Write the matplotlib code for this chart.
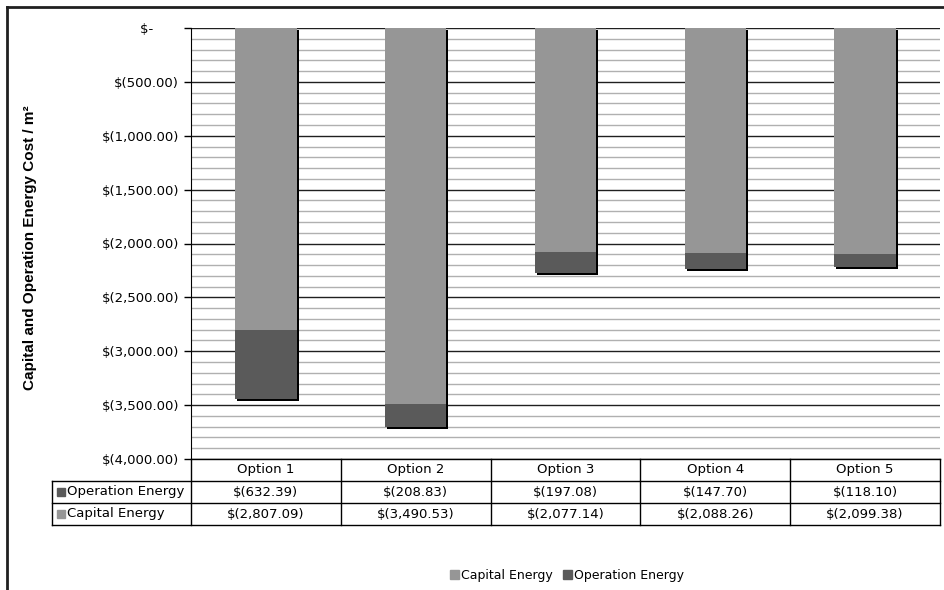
import matplotlib.pyplot as plt
import matplotlib.patheffects as pe
from matplotlib.lines import Line2D
from matplotlib.patches import Rectangle

options = ["Option 1", "Option 2", "Option 3", "Option 4", "Option 5"]
capital = [-2807.09, -3490.53, -2077.14, -2088.26, -2099.38]
operation = [-632.39, -208.83, -197.08, -147.70, -118.10]
y_ticks = [0, -500, -1000, -1500, -2000, -2500, -3000, -3500, -4000]

cap_color = "#969696"
op_color = "#5a5a5a"
W, H = 944, 590
fs = 9.5


def money(v):
    if v == 0:
        return "$-      "
    return "$({:,.2f})".format(abs(v))


fig = plt.figure(figsize=(W / 100, H / 100), dpi=100)
plt.rcParams['font.family'] = ['DejaVu Sans']

# plot area in pixel coords
x0, x1, ytop, ybot = 191, 940, 28, 459
ax = fig.add_axes([x0 / W, 1 - ybot / H, (x1 - x0) / W, (ybot - ytop) / H])

shadow = [pe.SimplePatchShadow(offset=(1.5, -1.5), shadow_rgbFace="black", alpha=1.0), pe.Normal()]
xs = range(len(options))
ax.bar(xs, capital, width=0.41, color=cap_color, zorder=3, path_effects=shadow)
ax.bar(xs, operation, width=0.41, bottom=capital, color=op_color, zorder=3, path_effects=shadow)

ax.set_xlim(-0.5, len(options) - 0.5)
ax.set_ylim(-4000, 0)
ax.set_yticks(y_ticks)
ax.set_yticklabels([money(v) for v in y_ticks], fontsize=fs)
ax.set_yticks(range(-4000, 1, 100), minor=True)
ax.set_xticks([])
ax.tick_params(axis="y", which="major", length=5, width=1, color="black", pad=3.5)
ax.tick_params(axis="y", which="minor", length=0)
ax.grid(axis="y", which="minor", color="#b0b0b0", linewidth=1, zorder=0)
ax.grid(axis="y", which="major", color="#202020", linewidth=1, zorder=1)
for s in ["top", "right", "bottom"]:
    ax.spines[s].set_visible(False)
ax.spines["left"].set_color("black")
ax.set_ylabel("Capital and Operation Energy Cost / m²", fontsize=11, fontweight="bold",
              family=["Liberation Sans", "DejaVu Sans"])
ax.yaxis.set_label_coords(-(x0 - 37) / (x1 - x0), 0.49)

# data table under the axes
col_w = (x1 - x0) / len(options)
row_h = 22
label_x = 52
rows = [("Operation Energy", operation, op_color), ("Capital Energy", capital, cap_color)]


def fx(px):
    return px / W


def fy(py):
    return 1 - py / H


def hline(xa, xb, y):
    fig.add_artist(Line2D([fx(xa), fx(xb)], [fy(y), fy(y)], color="black", linewidth=1))


def vline(x, ya, yb):
    fig.add_artist(Line2D([fx(x), fx(x)], [fy(ya), fy(yb)], color="black", linewidth=1))


hline(x0, x1, ybot)
hline(label_x, x1, ybot + row_h)
hline(label_x, x1, ybot + 2 * row_h)
hline(label_x, x1, ybot + 3 * row_h)
vline(label_x, ybot + row_h, ybot + 3 * row_h)
for i in range(len(options) + 1):
    vline(x0 + i * col_w, ybot, ybot + 3 * row_h)

for i, name in enumerate(options):
    fig.text(fx(x0 + (i + 0.5) * col_w), fy(ybot + row_h / 2), name,
             ha="center", va="center", fontsize=fs)
for r, (name, vals, c) in enumerate(rows):
    yc = ybot + (r + 1.5) * row_h
    fig.add_artist(Rectangle((fx(label_x + 5), fy(yc + 4)), 8 / W, 8 / H, color=c))
    fig.text(fx(label_x + 15), fy(yc), name, ha="left", va="center", fontsize=fs)
    for i, v in enumerate(vals):
        fig.text(fx(x0 + (i + 0.5) * col_w), fy(yc), money(v),
                 ha="center", va="center", fontsize=fs)

# legend
handles = [Rectangle((0, 0), 1, 1, color=cap_color), Rectangle((0, 0), 1, 1, color=op_color)]
fig.legend(handles, ["Capital Energy", "Operation Energy"], loc="center",
           bbox_to_anchor=(fx(567), fy(575)), ncol=2, frameon=False, fontsize=9,
           handlelength=0.7, handleheight=0.7, handletextpad=0.2, columnspacing=0.8)

# outer frame (top and left edges)
fig.add_artist(Line2D([fx(7), 1], [fy(7), fy(7)], color="#202020", linewidth=2))
fig.add_artist(Line2D([fx(7), fx(7)], [fy(7), 0], color="#202020", linewidth=2))

fig.savefig("out.png", dpi=100)
